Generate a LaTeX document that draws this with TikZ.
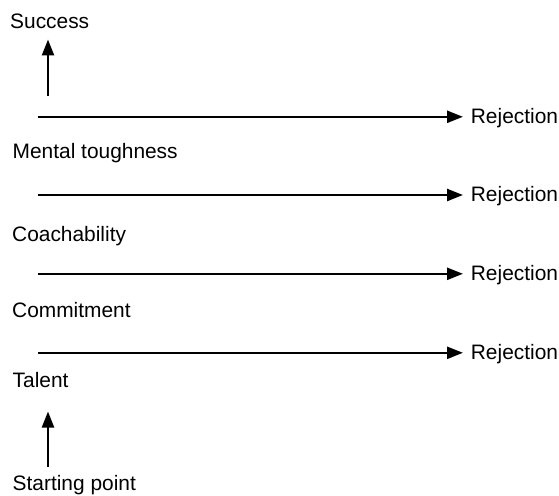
\documentclass[tikz,border=0pt]{standalone}
\usepackage{fontspec}
\setmainfont{Liberation Sans}
\usetikzlibrary{arrows.meta}
\begin{document}
\begin{tikzpicture}[x=1pt,y=-1pt,
  label/.style={anchor=base west,inner sep=0pt,font=\fontsize{20.9}{25}\selectfont},
  flow/.style={line width=2.4pt,-{Triangle[length=16pt,width=12pt]}}]
\useasboundingbox (0,0) rectangle (559,495);
% stage labels down the left side
\node[label] (success) at (10,28.3) {Success};
\node[label] (mental) at (12.5,158.3) {Mental toughness};
\node[label] (coach) at (12,241.7) {Coachability};
\node[label] (commit) at (12,317.3) {Commitment};
\node[label] (talent) at (12.5,387.5) {Talent};
\node[label] (start) at (12.5,490) {Starting point};
% rejection labels on the right
\node[label] (rej1) at (470.7,123.7) {Rejection};
\node[label] (rej2) at (470.7,201.7) {Rejection};
\node[label] (rej3) at (470.7,280.5) {Rejection};
\node[label] (rej4) at (470.7,359.5) {Rejection};
% arrow ends
\coordinate (upA0) at (48,467);
\coordinate (upA1) at (48,411.5);
\coordinate (upB0) at (48,96);
\coordinate (upB1) at (48,39.5);
\foreach \i/\y in {1/116.8,2/195,3/273.8,4/352.8}{
  \coordinate (l\i) at (38,\y);
  \coordinate (r\i) at (463,\y);
}
% upward arrows
\draw[flow] (upA0) -- (upA1);
\draw[flow] (upB0) -- (upB1);
% rejection arrows
\foreach \i in {1,...,4}{
  \draw[flow] (l\i) -- (r\i);
}
\end{tikzpicture}
\end{document}
